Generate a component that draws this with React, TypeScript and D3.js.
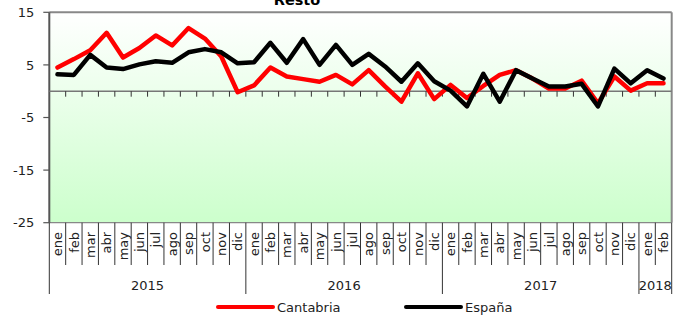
import React from "react";
import * as d3 from "d3";

const monthLabels = [
  "ene","feb","mar","abr","may","jun","jul","ago","sep","oct","nov","dic",
  "ene","feb","mar","abr","may","jun","jul","ago","sep","oct","nov","dic",
  "ene","feb","mar","abr","may","jun","jul","ago","sep","oct","nov","dic",
  "ene","feb",
];
const yearLabels = ["2015", "2016", "2017", "2018"];
const yearMonthCounts = [12, 12, 12, 2];

const cantabria = [
  4.5, 6.1, 7.8, 11.1, 6.4, 8.2, 10.6, 8.7, 12.0, 10.0, 6.6, -0.2,
  1.1, 4.5, 2.8, 2.3, 1.8, 3.1, 1.3, 4.0, 0.9, -2.0, 3.4, -1.5,
  1.2, -1.3, 1.0, 3.1, 4.0, 2.4, 0.5, 0.5, 2.0, -2.3, 2.8, 0.1,
  1.5, 1.5,
];
const espana = [
  3.2, 3.1, 6.9, 4.5, 4.2, 5.1, 5.7, 5.4, 7.4, 8.0, 7.4, 5.3,
  5.5, 9.2, 5.4, 9.9, 5.0, 8.8, 5.0, 7.1, 4.7, 1.8, 5.3, 1.9,
  0.1, -2.9, 3.3, -2.0, 4.0, 2.4, 0.9, 0.9, 1.4, -2.9, 4.3, 1.5,
  4.0, 2.4,
];
const yTicks = [15, 5, -5, -15, -25];
const seriesNames = ["Cantabria", "España"];
const seriesColors = ["#ff0000", "#000000"];

const W = 673;
const H = 316;
const left = 49.3;
const right = 671.7;
const top = 12.3;
const bottom = 222.7;
const font = "'DejaVu Sans', sans-serif";

export default function App() {
  const idx = monthLabels.map((_, i) => i);
  const x = d3.scaleBand<number>().domain(idx).range([left, right]).padding(0);
  const y = d3.scaleLinear().domain([-25, 15]).range([bottom, top]);
  const bw = x.bandwidth();
  const cx = (i: number) => (x(i) as number) + bw / 2;
  const line = d3
    .line<number>()
    .x((_, i) => cx(i))
    .y((d) => y(d));

  const series = [cantabria, espana];

  // year boundaries
  const yearStarts: number[] = [];
  let acc = 0;
  yearMonthCounts.forEach((c) => {
    yearStarts.push(acc);
    acc += c;
  });

  const y0 = y(0);

  return (
    <svg
      width={W}
      height={H}
      style={{ position: "absolute", left: 0, top: 0, background: "#fff" }}
      fontFamily={font}
    >
      <defs>
        <linearGradient id="bg" x1="0" y1="0" x2="0" y2="1">
          <stop offset="0" stopColor="#ffffff" />
          <stop offset="1" stopColor="#ccffcc" />
        </linearGradient>
      </defs>
      {/* title (cut off) */}
      <text x={297} y={4.5} textAnchor="middle" fontWeight="bold" fontSize={14.5} fill="#000">
        Resto
      </text>
      {/* plot area */}
      <rect x={left} y={top} width={right - left} height={bottom - top} fill="url(#bg)" />
      <line x1={left} x2={right} y1={top} y2={top} stroke="#888" strokeWidth={2} />
      <line x1={right} x2={right} y1={top} y2={bottom} stroke="#888" strokeWidth={2} />
      <line x1={left} x2={right} y1={bottom} y2={bottom} stroke="#888" strokeWidth={1.2} />
      {/* y axis */}
      <line x1={left} x2={left} y1={top} y2={bottom} stroke="#555" strokeWidth={2} />
      {yTicks.map((t) => (
        <g key={t}>
          <line x1={left - 6} x2={left} y1={y(t)} y2={y(t)} stroke="#555" strokeWidth={1.2} />
          <text x={left - 15} y={y(t)} dy="0.36em" textAnchor="end" fontSize={13} fill="#222">
            {t}
          </text>
        </g>
      ))}
      {/* zero axis with ticks */}
      <line x1={left} x2={right} y1={y0} y2={y0} stroke="#777" strokeWidth={1.5} />
      {idx.slice(1).map((i) => (
        <line key={i} x1={x(i)} x2={x(i)} y1={y0} y2={y0 + 5.5} stroke="#333" strokeWidth={1} />
      ))}
      {/* series lines */}
      {series.map((s, k) => (
        <path
          key={k}
          d={line(s) || ""}
          fill="none"
          stroke={seriesColors[k]}
          strokeWidth={4.5}
          strokeLinejoin="round"
          strokeLinecap="round"
        />
      ))}
      {/* category separators */}
      {idx.map((i) => {
        const isYear = yearStarts.includes(i);
        return (
          <line
            key={"s" + i}
            x1={x(i)}
            x2={x(i)}
            y1={bottom}
            y2={isYear ? 294 : 265}
            stroke="#333"
            strokeWidth={1}
          />
        );
      })}
      <line x1={right} x2={right} y1={bottom} y2={294} stroke="#333" strokeWidth={1} />
      {/* month labels */}
      {monthLabels.map((m, i) => (
        <text
          key={"m" + i}
          transform={`translate(${cx(i)},${232}) rotate(-90)`}
          dy="0.36em"
          textAnchor="end"
          fontSize={13}
          fill="#222"
        >
          {m}
        </text>
      ))}
      {/* year labels */}
      {yearLabels.map((yl, k) => {
        const s = yearStarts[k];
        const e = s + yearMonthCounts[k];
        const xs = x(s) as number;
        const xe = e < idx.length ? (x(e) as number) : right;
        return (
          <text key={yl} x={(xs + xe) / 2} y={290} textAnchor="middle" fontSize={13} fill="#222">
            {yl}
          </text>
        );
      })}
      {/* legend */}
      {seriesNames.map((n, k) => {
        const lx = k === 0 ? 218 : 406;
        return (
          <g key={n}>
            <line x1={lx} x2={lx + 55} y1={307} y2={307} stroke={seriesColors[k]} strokeWidth={4} strokeLinecap="round" />
            <text x={lx + 59} y={312} fontSize={13} fill="#222">
              {n}
            </text>
          </g>
        );
      })}
    </svg>
  );
}
